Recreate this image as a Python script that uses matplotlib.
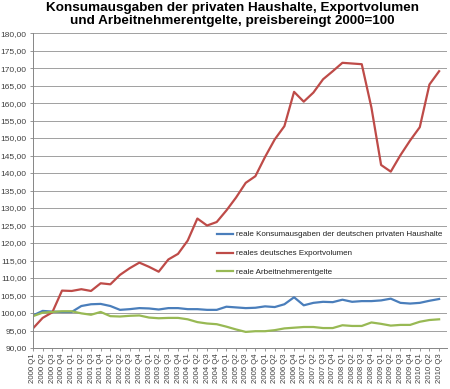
import matplotlib
matplotlib.use("Agg")
import matplotlib.pyplot as plt
from matplotlib.ticker import FuncFormatter

plt.rcParams["font.family"] = ["Liberation Sans", "DejaVu Sans"]

# quarters 2000 Q1 .. 2010 Q3
quarters = [f"{y} Q{q}" for y in range(2000, 2011) for q in range(1, 5)][:43]

konsum = [99.3, 100.6, 100.4, 100.3, 100.3, 102.0, 102.5, 102.6, 102.0, 100.9,
          101.1, 101.4, 101.3, 101.0, 101.4, 101.4, 101.1, 101.1, 100.9, 100.9,
          101.8, 101.6, 101.4, 101.5, 101.9, 101.7, 102.5, 104.5, 102.2, 102.9,
          103.2, 103.1, 103.8, 103.2, 103.4, 103.4, 103.6, 104.1, 102.9, 102.7,
          102.9, 103.5, 104.0]
export = [95.6, 98.6, 100.2, 106.4, 106.3, 106.8, 106.3, 108.5, 108.2, 110.9,
          112.8, 114.4, 113.2, 111.8, 115.3, 116.9, 120.7, 127.0, 125.0, 126.0,
          129.3, 133.0, 137.2, 139.1, 144.6, 149.6, 153.4, 163.2, 160.4, 163.0,
          166.8, 169.1, 171.5, 171.3, 171.1, 158.7, 142.3, 140.4, 145.1, 149.3,
          153.1, 165.3, 169.1]
entgelte = [99.1, 100.1, 100.3, 100.5, 100.5, 99.9, 99.5, 100.3, 99.1, 99.0,
            99.2, 99.3, 98.7, 98.5, 98.6, 98.6, 98.2, 97.4, 97.0, 96.8,
            96.1, 95.3, 94.6, 94.8, 94.8, 95.1, 95.6, 95.8, 96.0, 96.0,
            95.7, 95.7, 96.5, 96.3, 96.3, 97.3, 96.9, 96.4, 96.6, 96.6,
            97.5, 98.0, 98.2]

labels = ["reale Konsumausgaben der deutschen privaten Haushalte",
          "reales deutsches Exportvolumen",
          "reale Arbeitnehmerentgelte"]
colors = ["#4a7ebb", "#be4b48", "#98b954"]

fig = plt.figure(figsize=(4.5, 3.89), dpi=100)
ax = fig.add_axes([0.0733, 0.1054, 0.9197, 0.8096])

x = range(len(quarters))
for series, lab, col in zip([konsum, export, entgelte], labels, colors):
    ax.plot(x, series, color=col, linewidth=1.6, label=lab)

ax.set_xlim(0, len(quarters) - 1 + 0.8)
ax.set_ylim(90, 180)
ax.set_yticks(range(90, 181, 5))
ax.yaxis.set_major_formatter(FuncFormatter(lambda v, p: f"{v:.2f}".replace(".", ",")))
ax.set_xticks(list(x))
ax.set_xticklabels(quarters, rotation=90)
ax.tick_params(axis="y", labelsize=6, colors="#404040", length=2.5,
               width=0.6, pad=2)
ax.tick_params(axis="x", labelsize=5.6, colors="#404040", length=2.5,
               width=0.6, pad=1.5)
ax.tick_params(axis="both", color="#868686")
ax.grid(axis="y", color="#a0a0a0", linewidth=0.7)
ax.set_axisbelow(True)
for s in ["top", "right"]:
    ax.spines[s].set_visible(False)
for s in ["left", "bottom"]:
    ax.spines[s].set_color("#868686")
    ax.spines[s].set_linewidth(0.7)

ax.legend(loc="upper left", bbox_to_anchor=(0.445, 0.372), frameon=False,
          fontsize=5.8, handlelength=2.0, handletextpad=0.3, labelspacing=1.4,
          labelcolor="#202020", borderaxespad=0, borderpad=0)

fig.text(0.516, 0.995, "Konsumausgaben der privaten Haushalte, Exportvolumen\n"
         "und Arbeitnehmerentgelte, preisbereingt 2000=100",
         ha="center", va="top", fontsize=9.7, fontweight="bold",
         linespacing=1.1)

fig.savefig("out.png", dpi=100)
